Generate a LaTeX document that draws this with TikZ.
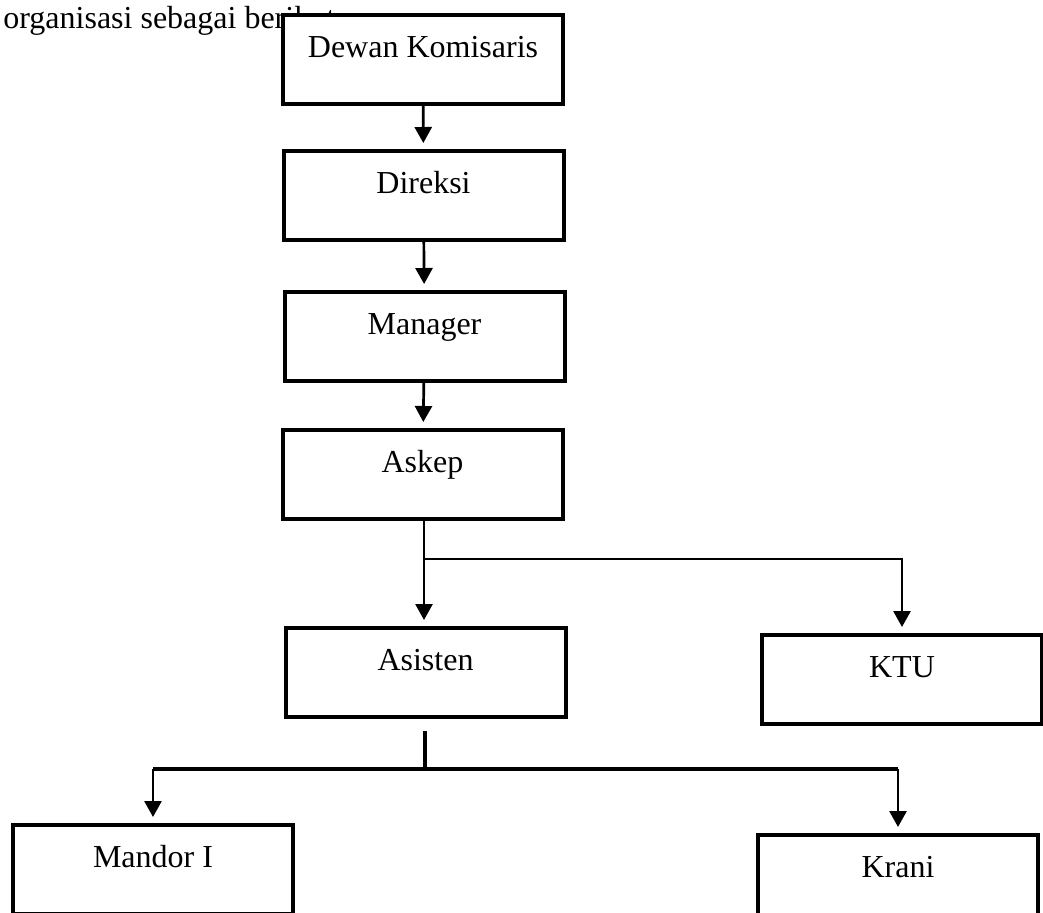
\documentclass[tikz,border=0pt]{standalone}
\usepackage{fontspec}
\setmainfont{Liberation Serif}
\usetikzlibrary{arrows.meta}

\tikzset{
  box/.style={draw, line width=2pt, fill=white, minimum width=140pt, inner sep=0pt,
    text height=21pt, text depth=23.5pt, anchor=north, font=\fontsize{16}{19}\selectfont},
  link/.style={line width=1.35pt, -{Triangle[length=8pt,width=8.5pt]}, shorten >=3pt},
  bus/.style={line width=2pt}
}

\begin{document}
\begin{tikzpicture}[x=0.5pt,y=-0.5pt]
  \useasboundingbox (0,0) rectangle (1043,912);
  \node[anchor=base west, inner sep=0pt, font=\fontsize{16}{19}\selectfont] (intro) at (3,28) {organisasi sebagai berikut:};

  \node[box] (dk) at (423,13) {Dewan Komisaris};
  \node[box] (direksi) at (423.5,149) {Direksi};
  \node[box] (manager) at (424.5,290) {Manager};
  \node[box] (askep) at (422.5,428) {Askep};
  \node[box] (asisten) at (425.5,626) {Asisten};
  \node[box] (ktu) at (902,633) {KTU};
  \node[box] (mandor) at (153,823) {Mandor I};
  \node[box] (krani) at (898,833) {Krani};

  \coordinate (fork) at (424,559);
  \coordinate (split) at (425,769);

  \path[link]
    (dk) edge (direksi)
    (direksi) edge (manager)
    (manager) edge (askep);
  \draw[link] (askep.south -| fork) -- (asisten.north -| fork);
  \draw[link] (fork) -| (ktu.north);

  \draw[bus] ([yshift=-6pt]asisten.south -| split) -- (split);
  \draw[bus] (mandor.north |- split) -- (krani.north |- split);
  \draw[link] (mandor.north |- split) -- (mandor.north);
  \draw[link] (krani.north |- split) -- (krani.north);
\end{tikzpicture}
\end{document}
